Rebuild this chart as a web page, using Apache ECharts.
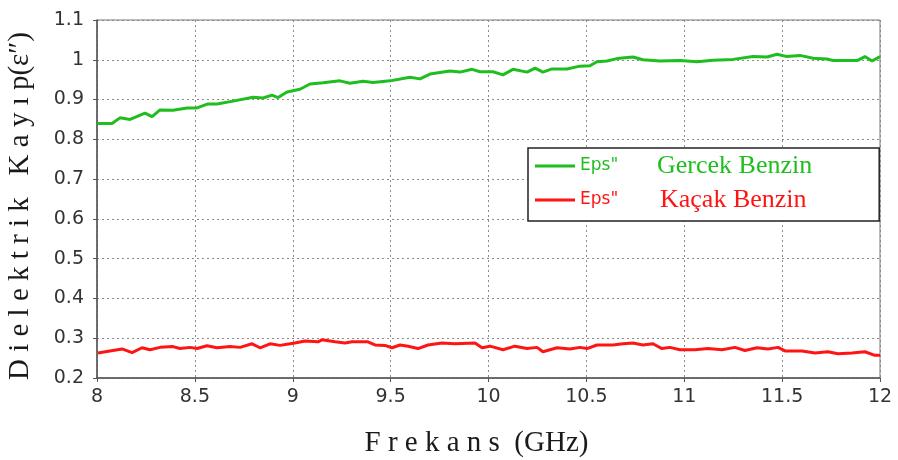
<!DOCTYPE html>
<html>
<head>
<meta charset="utf-8">
<script src="https://cdn.jsdelivr.net/npm/echarts@6/dist/echarts.min.js"></script>
<style>
html,body{margin:0;padding:0;background:#fff;}
#chart{width:898px;height:460px;}
</style>
</head>
<body>
<div id="chart"></div>
<script>
// Frequency (GHz) samples and values
const freqGercek = [8.000,8.077,8.117,8.169,8.245,8.281,8.322,8.388,8.460,8.511,8.567,8.613,8.695,8.797,8.848,8.894,8.925,8.971,9.037,9.088,9.155,9.241,9.292,9.359,9.410,9.497,9.599,9.650,9.701,9.803,9.854,9.916,9.957,10.023,10.074,10.125,10.197,10.238,10.278,10.324,10.401,10.467,10.518,10.554,10.605,10.656,10.738,10.789,10.876,10.978,11.065,11.147,11.249,11.351,11.423,11.474,11.525,11.591,11.658,11.729,11.760,11.832,11.883,11.923,11.959,12.000];
const gercek = [0.840,0.840,0.854,0.850,0.866,0.857,0.874,0.873,0.879,0.879,0.889,0.889,0.896,0.906,0.904,0.911,0.905,0.919,0.926,0.939,0.942,0.947,0.941,0.946,0.943,0.947,0.956,0.952,0.964,0.972,0.969,0.976,0.970,0.970,0.962,0.976,0.969,0.979,0.969,0.977,0.977,0.984,0.985,0.995,0.997,1.003,1.007,1.000,0.997,0.998,0.995,0.999,1.001,1.008,1.007,1.014,1.008,1.011,1.004,1.002,0.998,0.998,0.998,1.008,0.997,1.008];

const freqKacak = [8.005,8.066,8.128,8.179,8.230,8.271,8.322,8.388,8.424,8.475,8.511,8.562,8.613,8.679,8.731,8.792,8.833,8.884,8.935,8.986,9.011,9.063,9.129,9.149,9.216,9.267,9.303,9.384,9.420,9.471,9.507,9.548,9.589,9.640,9.691,9.762,9.829,9.931,9.967,10.008,10.074,10.135,10.197,10.248,10.278,10.350,10.416,10.467,10.503,10.554,10.636,10.687,10.738,10.789,10.840,10.886,10.927,10.978,11.055,11.121,11.193,11.259,11.310,11.372,11.428,11.479,11.515,11.602,11.668,11.734,11.785,11.857,11.923,11.974,12.000];
const kacak = [0.263,0.268,0.273,0.264,0.276,0.271,0.277,0.279,0.274,0.277,0.274,0.281,0.276,0.279,0.277,0.286,0.276,0.286,0.282,0.286,0.288,0.293,0.291,0.296,0.291,0.288,0.291,0.291,0.283,0.282,0.276,0.283,0.280,0.274,0.283,0.288,0.286,0.288,0.276,0.280,0.271,0.280,0.274,0.277,0.266,0.276,0.273,0.277,0.274,0.283,0.283,0.286,0.288,0.283,0.286,0.274,0.277,0.271,0.271,0.274,0.271,0.277,0.269,0.276,0.273,0.277,0.268,0.268,0.263,0.266,0.261,0.263,0.266,0.257,0.257];

const seriesNames = ['Gercek Benzin', 'Kaçak Benzin'];
const legendPrefix = 'Eps"';
const xAxisTitle = 'F r e k a n s  (GHz)';
const yAxisTitle = 'D i e l e k t r i k   K a y ı p(ε″)';

const GREEN = '#1fbe1f';
const RED = '#ff1414';

const chart = echarts.init(document.getElementById('chart'), null, {renderer: 'canvas'});
const gridLine = {show: true, lineStyle: {type: [2, 3], color: '#8a8a8a', width: 1}};
chart.setOption({
  animation: false,
  backgroundColor: '#fff',
  grid: {left: 97, right: 18, top: 20, bottom: 82, show: true, borderColor: '#777', borderWidth: 1,
         containLabel: false, outerBoundsMode: 'none'},
  xAxis: {
    type: 'value', min: 8, max: 12, interval: 0.5,
    name: xAxisTitle, nameLocation: 'middle', nameGap: 51,
    nameTextStyle: {fontFamily: 'Liberation Serif', fontSize: 29, color: '#1a1a1a', padding: [0, 24, 0, 0]},
    axisLine: {show: true, lineStyle: {color: '#555', width: 1.5}},
    axisTick: {show: true, length: 4, lineStyle: {color: '#555'}},
    axisLabel: {fontFamily: 'DejaVu Sans', fontSize: 19, color: '#333', margin: 10},
    splitLine: gridLine
  },
  yAxis: {
    type: 'value', min: 0.2, max: 1.1, interval: 0.1,
    name: yAxisTitle, nameLocation: 'middle', nameGap: 62, nameRotate: 90,
    nameTextStyle: {fontFamily: 'Liberation Serif', fontSize: 29, color: '#1a1a1a', padding: [0, 14, 0, 0]},
    axisLine: {show: true, lineStyle: {color: '#555', width: 1.5}},
    axisTick: {show: true, length: 4, lineStyle: {color: '#555'}},
    axisLabel: {fontFamily: 'DejaVu Sans', fontSize: 19, color: '#333', margin: 13,
      formatter: v => String(Math.round(v * 10) / 10)},
    splitLine: gridLine
  },
  legend: {
    orient: 'vertical', left: 528, top: 148,
    padding: [5, 67, 8, 7], itemGap: 8,
    borderColor: '#222', borderWidth: 1.5, backgroundColor: '#fff',
    icon: 'rect', itemWidth: 40, itemHeight: 3,
    data: seriesNames,
    formatter: name => name === seriesNames[0]
      ? '{g|' + legendPrefix + '}{gs|' + name + '}'
      : '{r|' + legendPrefix + '}{rs|' + name + '}',
    textStyle: {
      rich: {
        g: {color: GREEN, fontFamily: 'DejaVu Sans', fontSize: 17, width: 77},
        gs: {color: GREEN, fontFamily: 'Liberation Serif', fontSize: 26},
        r: {color: RED, fontFamily: 'DejaVu Sans', fontSize: 17, width: 80},
        rs: {color: RED, fontFamily: 'Liberation Serif', fontSize: 26}
      }
    }
  },
  series: [
    {name: seriesNames[0], type: 'line', symbol: 'none', color: GREEN,
     lineStyle: {width: 3, color: GREEN},
     data: freqGercek.map((f, i) => [f, gercek[i]])},
    {name: seriesNames[1], type: 'line', symbol: 'none', color: RED,
     lineStyle: {width: 3, color: RED},
     data: freqKacak.map((f, i) => [f, kacak[i]])}
  ]
});
</script>
</body>
</html>
